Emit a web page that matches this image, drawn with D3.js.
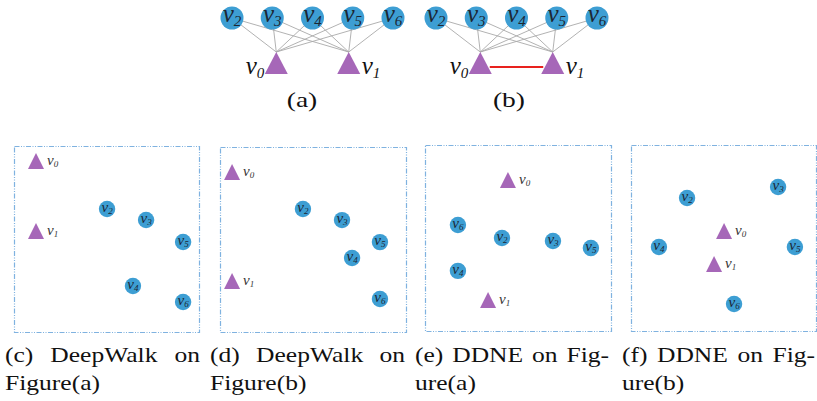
<!DOCTYPE html>
<html>
<head>
<meta charset="utf-8">
<script src="https://cdn.jsdelivr.net/npm/d3@7"></script>
<style>
  html, body { margin: 0; padding: 0; background: #fff; }
  svg { display: block; }
  svg text { font-family: "Liberation Serif", "Times New Roman", serif; }
  svg text.it { font-style: italic; }
</style>
</head>
<body>
<svg id="fig" width="817" height="401"></svg>
<script>
// ---- data ----------------------------------------------------------------
// Example graph: five "content" nodes and two anchor nodes
const topNodes = ["2", "3", "4", "5", "6"];
const anchorNodes = ["0", "1"];
// anchor positions along the node index axis
const anchorPos = [1.1, 2.9];
// every content node links to both anchors
const topEdges = [
  ["2", "0"], ["2", "1"], ["3", "0"], ["3", "1"], ["4", "0"],
  ["4", "1"], ["5", "0"], ["5", "1"], ["6", "0"], ["6", "1"]
];
// graph (b) additionally links the two anchors
const extraEdgesB = [["0", "1"]];
const topCaptions = ["(a)", "(b)"];

// 2-D embeddings (0..100 on each axis, y downwards)
const embedIds = ["0", "1", "2", "3", "4", "5", "6"];
const embedC_x = [11.9, 11.9, 50.3, 71.4, 64.3, 91.4, 91.4];
const embedC_y = [8.1, 45.7, 33.9, 39.8, 75.3, 51.6, 83.9];
const embedD_x = [6.5, 6.5, 44.6, 65.6, 71.0, 86.0, 86.0];
const embedD_y = [13.5, 72.4, 33.5, 39.5, 60.0, 51.4, 82.2];
const embedE_x = [44.6, 33.9, 41.4, 68.8, 17.7, 89.2, 17.7];
const embedE_y = [18.8, 83.3, 50.0, 51.6, 67.7, 55.4, 43.0];
const embedF_x = [50.3, 44.9, 30.3, 79.5, 15.1, 88.6, 55.7];
const embedF_y = [46.2, 64.0, 28.5, 22.6, 54.8, 54.8, 85.5];

const panelCaptions = [
  [["(c)", "DeepWalk", "on"], ["Figure(a)"]],
  [["(d)", "DeepWalk", "on"], ["Figure(b)"]],
  [["(e)", "DDNE", "on", "Fig-"], ["ure(a)"]],
  [["(f)", "DDNE", "on", "Fig-"], ["ure(b)"]]
];

// ---- styles --------------------------------------------------------------
const BLUE = "#3d9ed3";
const PURPLE = "#a667b8";
const INK = "#1c2733";
const STRETCH = 1.16;   // widen the serif face to a Computer-Modern-like width

const svg = d3.select("#fig");

function nodeLabel(g, x, y, idx, size, subSize, anchor, color) {
  const t = g.append("text")
    .attr("class", "it")
    .attr("x", x).attr("y", y)
    .attr("text-anchor", anchor)
    .attr("fill", color)
    .style("font-size", size + "px");
  t.append("tspan").text("v");
  t.append("tspan").style("font-size", subSize + "px").attr("dy", subSize * 0.25).text(idx);
  return t;
}

function triangle(cx, cy, w, h) {
  return `M${cx},${cy - h / 2}L${cx + w / 2},${cy + h / 2}L${cx - w / 2},${cy + h / 2}Z`;
}

// ---- top graphs (a) and (b) ---------------------------------------------
const topGraphs = [
  { range: [232, 393], extra: [], caption: topCaptions[0], capX: 302 },
  { range: [436, 597], extra: extraEdgesB, caption: topCaptions[1], capX: 509 }
];
const circleY = 18, apexY = 52, baseY = 74;
const triW = 23;

topGraphs.forEach(G => {
  const x = d3.scaleLinear().domain([0, topNodes.length - 1]).range(G.range);
  const g = svg.append("g");
  const pos = {};
  topNodes.forEach((id, i) => pos[id] = { x: x(i), y: circleY });
  anchorNodes.forEach((id, i) => pos[id] = { x: x(anchorPos[i]), y: apexY });

  g.selectAll("line.e").data(topEdges).join("line")
    .attr("x1", d => pos[d[0]].x).attr("y1", d => pos[d[0]].y)
    .attr("x2", d => pos[d[1]].x).attr("y2", d => pos[d[1]].y)
    .attr("stroke", "#a9a9a9").attr("stroke-width", 0.9);

  g.selectAll("line.r").data(G.extra).join("line")
    .attr("x1", d => pos[d[0]].x + triW / 2 - 2).attr("y1", 67)
    .attr("x2", d => pos[d[1]].x - triW / 2 + 2).attr("y2", 67)
    .attr("stroke", "#e8221e").attr("stroke-width", 2);

  g.selectAll("path.t").data(anchorNodes).join("path")
    .attr("d", d => triangle(pos[d].x, (apexY + baseY) / 2, triW, baseY - apexY))
    .attr("fill", PURPLE);

  g.selectAll("circle").data(topNodes).join("circle")
    .attr("cx", d => pos[d].x).attr("cy", d => pos[d].y)
    .attr("r", 11.5).attr("fill", BLUE);

  topNodes.forEach(id => nodeLabel(g, pos[id].x, circleY + 4, id, 25, 15, "middle", INK));
  nodeLabel(g, pos["0"].x - 12, baseY, "0", 25, 15, "end", "#111");
  nodeLabel(g, pos["1"].x + 13, baseY, "1", 25, 15, "start", "#111");

  const cap = g.append("text")
    .attr("x", G.capX).attr("y", 107)
    .attr("text-anchor", "middle")
    .style("font-size", "22px")
    .attr("fill", "#111")
    .text(G.caption);
  cap.attr("textLength", cap.node().getComputedTextLength() * 1.25)
    .attr("lengthAdjust", "spacingAndGlyphs");
});

// ---- embedding panels (c)-(f) -------------------------------------------
const panels = [
  { box: [14, 146, 185, 186], xs: embedC_x, ys: embedC_y },
  { box: [220, 147, 186, 185], xs: embedD_x, ys: embedD_y },
  { box: [425, 145, 186, 186], xs: embedE_x, ys: embedE_y },
  { box: [631, 145, 185, 186], xs: embedF_x, ys: embedF_y }
];

panels.forEach(P => {
  const [bx, by, bw, bh] = P.box;
  const sx = d3.scaleLinear().domain([0, 100]).range([bx, bx + bw]);
  const sy = d3.scaleLinear().domain([0, 100]).range([by, by + bh]);
  const g = svg.append("g");

  g.append("rect")
    .attr("x", bx + 0.5).attr("y", by + 0.5)
    .attr("width", bw).attr("height", bh)
    .attr("fill", "none")
    .attr("stroke", "#7fb2e0").attr("stroke-width", 1.2)
    .attr("stroke-dasharray", "5,1.5,1,1.5,1,1.5");

  const pts = embedIds.map((id, i) => ({ id, x: sx(P.xs[i]), y: sy(P.ys[i]) }));
  const anchors = pts.filter(p => anchorNodes.includes(p.id));
  const content = pts.filter(p => !anchorNodes.includes(p.id));

  g.selectAll("path").data(anchors).join("path")
    .attr("d", d => triangle(d.x, d.y, 16, 16))
    .attr("fill", PURPLE);
  anchors.forEach(d => nodeLabel(g, d.x + 11, d.y + 4, d.id, 15, 9, "start", "#333"));

  g.selectAll("circle").data(content).join("circle")
    .attr("cx", d => d.x).attr("cy", d => d.y)
    .attr("r", 8.2).attr("fill", BLUE);
  content.forEach(d => nodeLabel(g, d.x, d.y + 3, d.id, 15, 9, "middle", INK));
});

// ---- captions, justified word by word -----------------------------------
const capLines = [
  { x0: 5, x1: 200 }, { x0: 210, x1: 405 }, { x0: 415, x1: 609 }, { x0: 622, x1: 815 }
];

function placeWords(words, x0, x1, y, justify) {
  const nodes = words.map(w => svg.append("text")
    .attr("y", y)
    .style("font-size", "22px")
    .attr("fill", "#111").text(w));
  const widths = nodes.map(n => n.node().getComputedTextLength() * STRETCH);
  nodes.forEach((n, i) => n.attr("textLength", widths[i]).attr("lengthAdjust", "spacingAndGlyphs"));
  const total = d3.sum(widths);
  const gap = justify && words.length > 1 ? (x1 - x0 - total) / (words.length - 1) : 6;
  let cx = x0;
  nodes.forEach((n, i) => { n.attr("x", cx); cx += widths[i] + gap; });
}

panelCaptions.forEach((lines, i) => {
  const L = capLines[i];
  placeWords(lines[0], L.x0, L.x1, 362, true);
  placeWords(lines[1], L.x0, L.x1, 390, false);
});
</script>
</body>
</html>
